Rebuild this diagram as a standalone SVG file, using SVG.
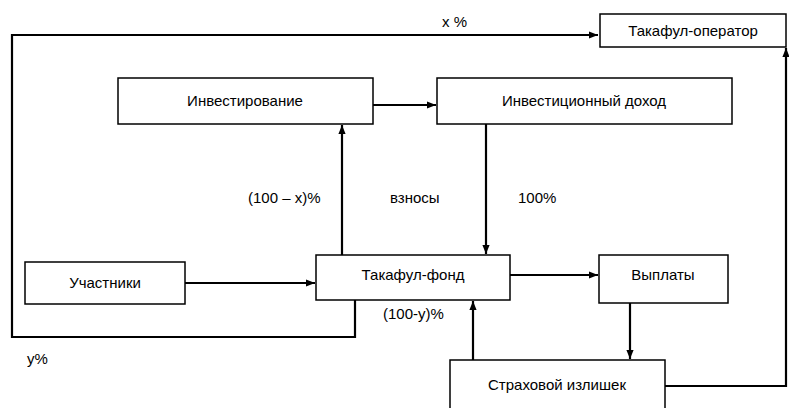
<svg xmlns="http://www.w3.org/2000/svg" width="789" height="408" viewBox="0 0 789 408">
<defs>
<marker id="ah" viewBox="0 0 10 10" refX="10" refY="5" markerWidth="9" markerHeight="9" markerUnits="userSpaceOnUse" orient="auto">
<path d="M0,1 L10,5 L0,9 Z" fill="#000"/>
</marker>
</defs>
<style>
rect{fill:#fff;stroke:#000;stroke-width:1.5}
text{font-family:"Liberation Sans",Arial,sans-serif;font-size:15px;fill:#000}
.c{text-anchor:middle}
.ln{fill:none;stroke:#000;stroke-width:2.2}
</style>
<rect x="0" y="0" width="789" height="408" style="stroke:none"/>
<g id="connectors">
<path class="ln" d="M355,300 V337 H12 V35 H598" marker-end="url(#ah)"/>
<path class="ln" d="M373,105 H436" marker-end="url(#ah)"/>
<path class="ln" d="M342,255 V125" marker-end="url(#ah)"/>
<path class="ln" d="M486,124 V254" marker-end="url(#ah)"/>
<path class="ln" d="M185,283 H315" marker-end="url(#ah)"/>
<path class="ln" d="M510,275 H598" marker-end="url(#ah)"/>
<path class="ln" d="M630,303 V359" marker-end="url(#ah)"/>
<path class="ln" d="M473,360 V301" marker-end="url(#ah)"/>
<path class="ln" d="M665,386 H786 V48" marker-end="url(#ah)"/>
</g>
<g id="labels">
<text x="442" y="27">x %</text>
<text x="248" y="203">(100 – x)%</text>
<text x="390" y="203">взносы</text>
<text x="518" y="203">100%</text>
<text x="383" y="319">(100-y)%</text>
<text x="27" y="364">y%</text>
</g>
<g id="operator"><rect x="600" y="14" width="186" height="33"/><text class="c" x="693" y="36">Такафул-оператор</text></g>
<g id="investing"><rect x="118" y="78" width="255" height="46"/><text class="c" x="245" y="106">Инвестирование</text></g>
<g id="income"><rect x="437" y="78" width="295" height="46"/><text class="c" x="584" y="106">Инвестиционный доход</text></g>
<g id="participants"><rect x="25" y="262" width="160" height="42"/><text class="c" x="105" y="288">Участники</text></g>
<g id="fund"><rect x="316" y="255" width="194" height="45"/><text class="c" x="413" y="280">Такафул-фонд</text></g>
<g id="payouts"><rect x="599" y="255" width="129" height="48"/><text class="c" x="663" y="280">Выплаты</text></g>
<g id="surplus"><rect x="450" y="360" width="215" height="52"/><text class="c" x="557" y="390">Страховой излишек</text></g>
</svg>
